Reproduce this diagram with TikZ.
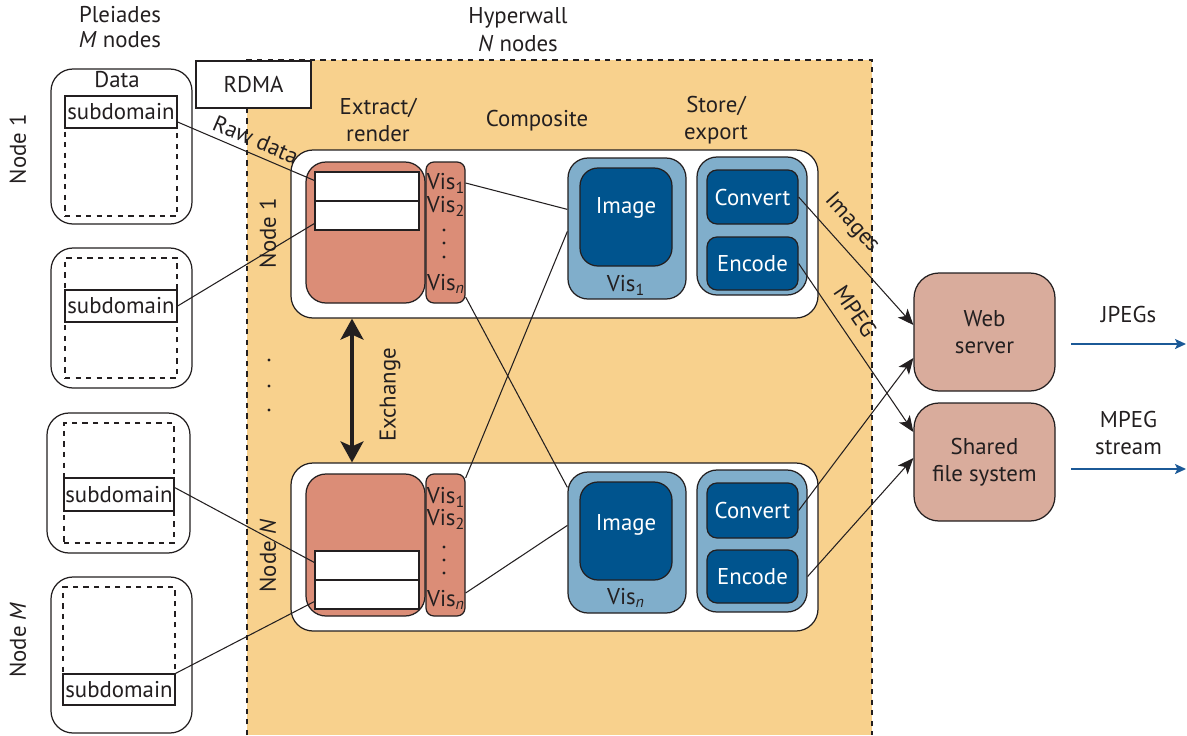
\documentclass[tikz,border=0pt]{standalone}
\usepackage{fontspec}
\setmainfont{PT Sans}
\usepackage{xcolor}
\usepackage{tikz}
\usetikzlibrary{arrows.meta,calc,fit}

\definecolor{hwback}{RGB}{248,209,141}
\definecolor{render}{RGB}{219,141,119}
\definecolor{visgroup}{RGB}{128,174,203}
\definecolor{visbox}{RGB}{0,84,142}
\definecolor{server}{RGB}{217,172,156}
\definecolor{stream}{RGB}{27,89,151}
\definecolor{ink}{RGB}{35,31,32}

\begin{document}
\begin{tikzpicture}[x=0.02cm, y=-0.02cm, font=\fontsize{13}{15.5}\selectfont, text=ink,
  frame/.style={draw=ink, line width=0.7pt, inner sep=0pt},
  pbox/.style={frame, fill=white, rounded corners=0.44cm},
  dbox/.style={frame, dashed},
  sbox/.style={frame, fill=white},
  rbox/.style={frame, fill=render, rounded corners=0.4cm},
  vcol/.style={frame, fill=render, rounded corners=0.16cm},
  vgroup/.style={frame, fill=visgroup, rounded corners=0.4cm},
  vinner/.style={frame, fill=visbox, rounded corners=0.36cm},
  tbox/.style={frame, fill=visbox, rounded corners=0.2cm},
  sv/.style={frame, fill=server, rounded corners=0.5cm},
  link/.style={draw=ink, line width=0.6pt},
  feed/.style={link, ->, >={Stealth[length=0.32cm, width=0.26cm, inset=0.08cm]}},
  xch/.style={draw=ink, line width=1.8pt, <->, >={Stealth[length=0.42cm, width=0.46cm, inset=0.1cm]}},
  outflow/.style={draw=stream, line width=1.1pt, ->, >={Stealth[length=0.22cm, width=0.2cm, inset=0.05cm]}}
]
\useasboundingbox (0,0) rectangle (1187,735);

\fill[hwback] (247,60) rectangle (872,735);
\draw[ink, line width=0.7pt, dashed] (247,735) -- (247,60) -- (872,60) -- (872,735);

\node[sbox, fit={(196,61)(311,108)}, label={center:RDMA}] (rdma) {};

\node at (120,15) {Pleiades};
\node at (120,40) {\textit{M} nodes};
\node at (518,18) {Hyperwall};
\node at (518,44) {\textit{N} nodes};
\node[rotate=90] at (18,149) {Node 1};
\node[rotate=90] at (18,640) {Node \textit{M}};

\node[pbox, fit={(51,69)(192,224)}] (p1) {};
\node at (117,80) {Data};
\node[dbox, fit={(65,96)(177,216)}] (d1) {};
\node[sbox, fit={(65,96)(177,128)}, label={center:subdomain}] (s1) {};
\node[pbox, fit={(51,248)(192,388)}] (p2) {};
\node[dbox, fit={(65,258)(177,378)}] (d2) {};
\node[sbox, fit={(65,290)(177,322)}, label={center:subdomain}] (s2) {};
\node[pbox, fit={(47,413)(190,553)}] (p3) {};
\node[dbox, fit={(64,423)(174,543)}] (d3) {};
\node[sbox, fit={(64,478)(174,511)}, label={center:subdomain}] (s3) {};
\node[pbox, fit={(51,577)(192,733)}] (p4) {};
\node[dbox, fit={(63,587)(175,705)}] (d4) {};
\node[sbox, fit={(63,674)(175,705)}, label={center:subdomain}] (s4) {};

\node[align=center] at (378,120) {Extract/\\render};
\node at (537,121) {Composite};
\node[align=center] at (716,120) {Store/\\export};
\node[rotate=90] at (268,233) {Node 1};
\node[rotate=90] at (268,556) {Node \textit{N}};
\node[rotate=90] at (390,395) {Exchange};
\fill[ink] (269,360) circle (0.9pt);
\fill[ink] (269,386) circle (0.9pt);
\fill[ink] (269,410) circle (0.9pt);

\node[pbox, fit={(291,150)(818,318)}] (hw1) {};
\node[rbox, fit={(306,162)(425,303)}] (e1) {};
\node[sbox, fit={(315,172)(419,201)}] (e1a) {};
\node[sbox, fit={(315,201)(419,230)}] (e1b) {};
\node[vcol, fit={(426,162)(465,303)}] (vc1) {};
\node (v1a) at (446,183) {Vis\textsubscript{1}};
\node (v1b) at (446,206) {Vis\textsubscript{2}};
\node (v1n) at (446,284) {Vis\textsubscript{\textit{n}}};
\fill[ink] (444,230) circle (0.9pt);
\fill[ink] (444,243) circle (0.9pt);
\fill[ink] (444,257) circle (0.9pt);
\node[vgroup, fit={(568,158)(686,299)}] (ig1) {};
\node[vinner, fit={(580,168)(672,266)}] (im1) {};
\node[text=white] at (626,208) {Image};
\node at (626,285) {Vis\textsubscript{1}};
\node[vgroup, fit={(697,157)(807,295)}] (st1) {};
\node[tbox, fit={(707,170)(798,224)}, label={[text=white]center:Convert}] (cv1) {};
\node[tbox, fit={(707,237)(798,290)}, label={[text=white]center:Encode}] (en1) {};

\node[pbox, fit={(291,463)(818,631)}] (hwN) {};
\node[rbox, fit={(306,474)(425,616)}] (eN) {};
\node[sbox, fit={(315,551)(419,580)}] (eNa) {};
\node[sbox, fit={(315,580)(419,609)}] (eNb) {};
\node[vcol, fit={(426,474)(465,616)}] (vcN) {};
\node (vNa) at (446,497) {Vis\textsubscript{1}};
\node (vNb) at (446,519) {Vis\textsubscript{2}};
\node (vNn) at (446,600) {Vis\textsubscript{\textit{n}}};
\fill[ink] (444,547) circle (0.9pt);
\fill[ink] (444,560) circle (0.9pt);
\fill[ink] (444,573) circle (0.9pt);
\node[vgroup, fit={(568,472)(686,613)}] (igN) {};
\node[vinner, fit={(580,482)(672,580)}] (imN) {};
\node[text=white] at (626,525) {Image};
\node at (626,598) {Vis\textsubscript{\textit{n}}};
\node[vgroup, fit={(697,470)(807,612)}] (stN) {};
\node[tbox, fit={(707,483)(798,538)}, label={[text=white]center:Convert}] (cvN) {};
\node[tbox, fit={(707,550)(798,603)}, label={[text=white]center:Encode}] (enN) {};

\node[sv, fit={(914,273)(1055,391)}, label={[align=center]center:Web\\server}] (web) {};
\node[sv, fit={(914,403)(1055,521)}, label={[align=center]center:Shared\\file system}] (fs) {};

\coordinate (xc) at (352,0);
\draw[xch] (hw1.south -| xc) -- (hwN.north -| xc);

\draw[link] ($(s1.east)+(0,10)$) -- node[sloped, above, pos=0.53] {Raw data} ($(e1a.west)+(0,-6)$);
\draw[link] (s2.east) -- ($(e1b.west)+(0,8)$);
\draw[link] ($(s3.east)+(0,-7)$) -- ($(eNa.west)+(0,-3)$);
\draw[link] (s4.north east) -- ($(eNb.west)+(0,7)$);

\draw[link] (v1a -| vc1.east) -- ($(ig1.north west)+(0,52)$);
\draw[link] ($(v1n -| vc1.east)+(0,13)$) -- ($(igN.north west)+(0,16)$);
\draw[link] ($(vNa -| vcN.east)+(0,-19)$) -- ($(ig1.north west)+(0,74)$);
\draw[link] ($(vNn -| vcN.east)+(0,-7)$) -- ($(igN.north west)+(0,54)$);

\draw[feed] (cv1.east) -- node[sloped, above=3pt, pos=0.32] {Images} ($(web.west)+(0,-7)$);
\draw[feed] (en1.east) -- node[sloped, above=3pt, pos=0.35] {MPEG} ($(fs.west)+(0,-30)$);
\draw[feed] (cvN.east) -- ($(web.west)+(0,26)$);
\draw[feed] (enN.east -| stN.east) -- ($(fs.west)+(0,-4)$);

\coordinate (jpA) at (1071,344);
\coordinate (jpB) at (1186,344);
\coordinate (mpA) at (1071,469);
\coordinate (mpB) at (1186,469);
\draw[outflow] (jpA) -- node[above=8pt] {JPEGs} (jpB);
\draw[outflow] (mpA) -- node[above=4pt, align=center] {MPEG\\stream} (mpB);
\end{tikzpicture}
\end{document}
